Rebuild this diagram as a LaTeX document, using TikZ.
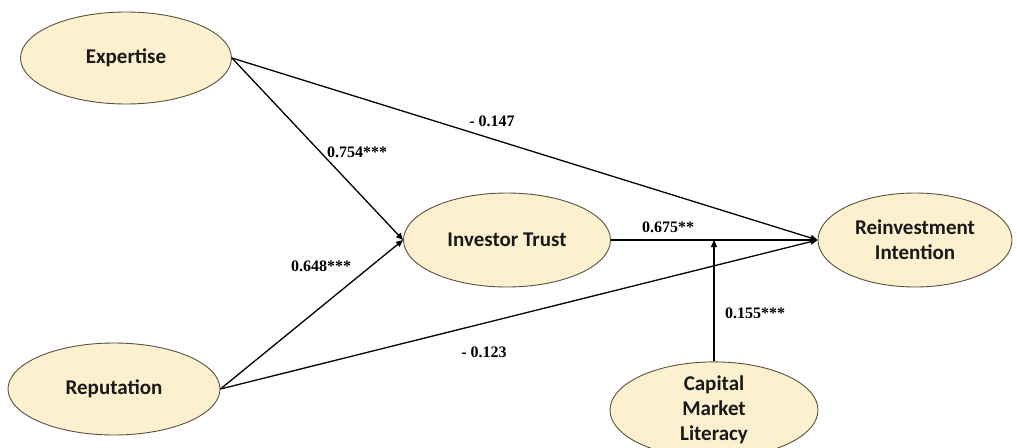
\documentclass[tikz,border=0pt]{standalone}
\usepackage{fontspec}
\setmainfont{Liberation Serif}
\newfontfamily\calib{Carlito}
\usetikzlibrary{shapes.geometric,arrows.meta}
\definecolor{ellfill}{HTML}{FDF0CE}
\definecolor{ellline}{HTML}{5A5040}
\tikzset{
  construct/.style={ellipse, draw=ellline, line width=0.9pt, fill=ellfill, inner sep=0pt,
    font=\calib\bfseries\fontsize{21}{25}\selectfont, align=center, text=black!90},
  path/.style={line width=1.3pt, -{Triangle[length=7pt,width=6pt]}},
  coef/.style={font=\bfseries\fontsize{16}{18}\selectfont, inner sep=0pt}
}
\begin{document}
\begin{tikzpicture}[x=1pt,y=-1pt]
\useasboundingbox (0,0) rectangle (1017,447);
\node[construct, minimum width=211pt, minimum height=92pt] (exp) at (126,58) {Expertise};
\node[construct, minimum width=207pt, minimum height=94pt] (it) at (507,240) {Investor Trust};
\node[construct, minimum width=194pt, minimum height=94pt] (ri) at (915,240) {Reinvestment\\Intention};
\node[construct, minimum width=212pt, minimum height=92pt] (rep) at (114,389) {Reputation};
\node[construct, minimum width=208pt, minimum height=96pt] (cml) at (714,410) {Capital\\Market\\Literacy};
\coordinate (mod) at (cml.north |- it.east);
\draw[path] (exp.east) -- (it.west);
\draw[path] (exp.east) -- (ri.west);
\draw[path] (rep.east) -- (it.west);
\draw[path] (rep.east) -- (ri.west);
\draw[path] (it.east) -- (ri.west);
\draw[path] (cml.north) -- (mod);
\node[coef] (l1) at (357,152) {0.754***};
\node[coef] (l2) at (492,121) {- 0.147};
\node[coef] (l3) at (668,227) {0.675**};
\node[coef] (l4) at (321,266) {0.648***};
\node[coef] (l5) at (484,352) {- 0.123};
\node[coef] (l6) at (755,313) {0.155***};
\end{tikzpicture}
\end{document}
